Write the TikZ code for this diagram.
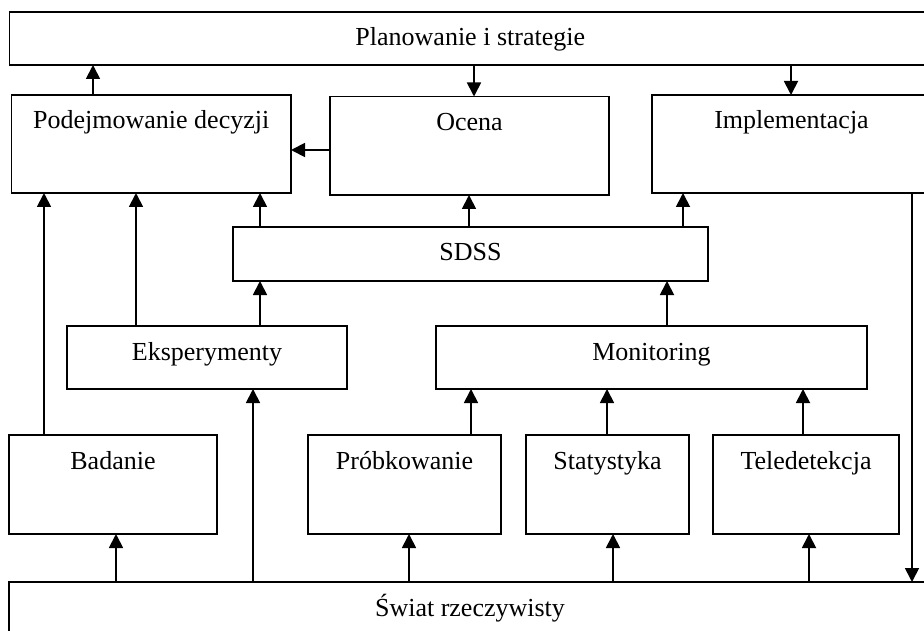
\documentclass[tikz,border=0pt]{standalone}
\usepackage{fontspec}
\setmainfont{Liberation Serif}
\usetikzlibrary{arrows.meta}
\begin{document}
\begin{tikzpicture}[x=1pt,y=-1pt,
  box/.style={draw, line width=1.8pt, anchor=north west, inner sep=0pt, outer sep=0pt,
    text height=34pt, font=\fontsize{26}{30}\selectfont},
  arr/.style={line width=1.8pt, -{Triangle[width=14pt,length=14pt]}}]
\path[use as bounding box, clip] (0,0) rectangle (924,631);

% boxes
\node[box, minimum width=921.5pt, minimum height=53pt, text depth=19pt] (plan) at (9.5,12) {Planowanie i strategie};
\node[box, minimum width=279.5pt, minimum height=98pt, text depth=64pt] (pod) at (11.5,95) {Podejmowanie decyzji};
\node[box, minimum width=279pt, minimum height=98.5pt, text depth=64.5pt] (oc) at (330,96.5) {Ocena};
\node[box, minimum width=279pt, minimum height=98pt, text depth=64pt] (impl) at (652,95) {Implementacja};
\node[box, minimum width=475pt, minimum height=54pt, text depth=20pt] (sdss) at (233,227) {SDSS};
\node[box, minimum width=280pt, minimum height=63pt, text depth=29pt] (eksp) at (67,326) {Eksperymenty};
\node[box, minimum width=431pt, minimum height=63pt, text depth=29pt] (mon) at (436,326) {Monitoring};
\node[box, minimum width=208pt, minimum height=99pt, text depth=65pt] (bad) at (9,435) {Badanie};
\node[box, minimum width=193pt, minimum height=99pt, text depth=65pt] (prob) at (308,435) {Próbkowanie};
\node[box, minimum width=163pt, minimum height=99pt, text depth=65pt] (stat) at (526,435) {Statystyka};
\node[box, minimum width=186pt, minimum height=99pt, text depth=65pt] (tele) at (713,435) {Teledetekcja};
\node[box, minimum width=922pt, minimum height=70pt, text depth=36pt] (swiat) at (9,582) {Świat rzeczywisty};

% connectors
\draw[arr] (93,0 |- pod.north) -- (93,0 |- plan.south);
\draw[arr] (474,0 |- plan.south) -- (474,0 |- oc.north);
\draw[arr] (791,0 |- plan.south) -- (791,0 |- impl.north);
\draw[arr] (oc.west |- 0,150) -- (pod.east |- 0,150);
\draw[arr] (44,0 |- bad.north) -- (44,0 |- pod.south);
\draw[arr] (136,0 |- eksp.north) -- (136,0 |- pod.south);
\draw[arr] (260,0 |- sdss.north) -- (260,0 |- pod.south);
\draw[arr] (260,0 |- eksp.north) -- (260,0 |- sdss.south);
\draw[arr] (469,0 |- sdss.north) -- (469,0 |- oc.south);
\draw[arr] (683,0 |- sdss.north) -- (683,0 |- impl.south);
\draw[arr] (667,0 |- mon.north) -- (667,0 |- sdss.south);
\draw[arr] (471,0 |- prob.north) -- (471,0 |- mon.south);
\draw[arr] (607,0 |- stat.north) -- (607,0 |- mon.south);
\draw[arr] (803,0 |- tele.north) -- (803,0 |- mon.south);
\draw[arr] (116,0 |- swiat.north) -- (116,0 |- bad.south);
\draw[arr] (253,0 |- swiat.north) -- (253,0 |- eksp.south);
\draw[arr] (409,0 |- swiat.north) -- (409,0 |- prob.south);
\draw[arr] (613,0 |- swiat.north) -- (613,0 |- stat.south);
\draw[arr] (809,0 |- swiat.north) -- (809,0 |- tele.south);
\draw[arr] (912,0 |- impl.south) -- (912,0 |- swiat.north);
\end{tikzpicture}
\end{document}
